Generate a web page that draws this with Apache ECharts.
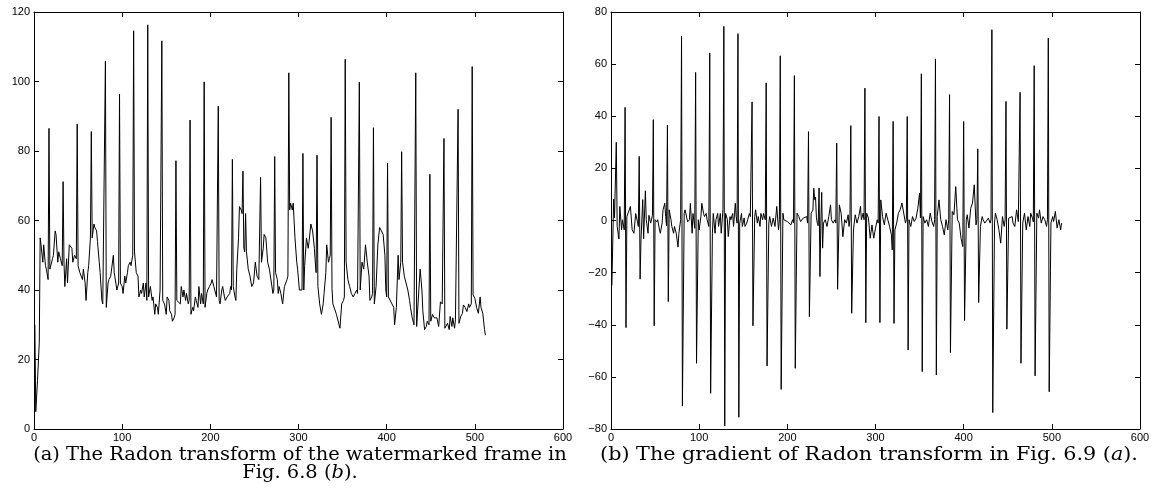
<!DOCTYPE html>
<html>
<head>
<meta charset="utf-8">
<script src="https://cdn.jsdelivr.net/npm/echarts@6/dist/echarts.min.js"></script>
<style>
html,body{margin:0;padding:0;background:#fff;}
#c{width:1153px;height:504px;}
</style>
</head>
<body>
<div id="c"></div>
<script>
// Radon transform (left panel): [sample index, value]
const radon = [[1,30],[2,5],[3,5],[4,14],[5,14],[6,25],[7,55],[8,53],[10,48],[11,53],[13,47],[14,46],[16,43],[17,86.5],[18,46],[20,46],[21,49],[22,50],[24,57],[25,56],[27,48],[28,51],[30,49],[32,47],[33,71.2],[34,48],[35,41],[37,49],[38,42],[40,53],[41,53],[43,52],[44,48],[46,50],[48,49],[49,87.8],[50,47],[52,45],[53,45],[55,43],[56,46],[58,42],[59,37],[61,45],[62,47],[64,55],[65,85.6],[66,55],[68,59],[69,58],[71,57],[72,54],[74,48],[75,45],[77,37],[78,36],[80,36],[81,105.9],[82,35],[84,42],[85,43],[87,44],[88,44],[90,50],[91,45],[93,45],[94,40],[96,42],[97,96.4],[98,42],[100,41],[101,39],[103,44],[104,42],[106,45],[107,47],[109,48],[110,47],[112,50],[113,114.6],[114,51],[116,45],[118,44],[119,38],[121,40],[122,39],[124,42],[125,38],[127,42],[128,37],[129,116.3],[130,38],[132,41],[134,37],[135,38],[137,33],[138,36],[140,35],[141,33],[143,40],[144,40],[145,111.7],[146,37],[148,36],[150,33],[151,38],[153,37],[154,34],[156,33],[157,31],[159,32],[160,33],[161,77.2],[162,37],[164,37],[166,36],[167,41],[169,38],[170,40],[172,37],[173,39],[175,36],[176,37],[177,88.9],[178,33],[180,35],[181,34],[183,38],[184,37],[186,35],[187,41],[189,36],[190,39],[192,36],[193,99.9],[194,35],[196,39],[197,40],[199,41],[201,42],[202,43],[204,41],[205,40],[207,38],[208,38],[209,92.9],[210,37],[211,36],[213,40],[214,41],[216,38],[217,37],[219,38],[220,38],[222,39],[223,41],[224,40],[225,77.6],[226,41],[228,38],[229,37],[230,46],[232,55],[233,64],[235,63],[236,62],[237,74.2],[238,52],[239,51],[240,62],[241,51],[243,46],[245,44],[247,41],[249,42],[251,48],[253,44],[255,43],[256,43],[257,72.4],[258,48],[260,52],[261,56],[263,55],[265,48],[267,46],[269,46],[271,39],[272,40],[273,78.4],[274,45],[276,43],[277,39],[278,41],[280,39],[282,36],[284,41],[285,41],[287,43],[288,44],[289,102.5],[290,63],[291,65],[293,63],[294,65],[296,55],[298,48],[299,46],[301,40],[303,40],[304,40],[305,79.3],[306,40],[307,47],[309,55],[311,52],[312,54],[314,59],[316,57],[318,52],[319,48],[320,45],[321,78.8],[322,41],[324,36],[326,33],[328,36],[329,39],[331,45],[332,53],[334,48],[335,49],[336,50],[337,89.7],[338,40.5],[339,36],[341,36],[343,33],[345,33],[347,29],[349,36],[351,37],[352,38],[353,106.4],[354,48],[356,43],[358,41],[360,39],[362,38],[364,39],[366,40],[367,39],[368,39],[369,99.8],[370,40],[372,48],[374,46],[376,53],[378,48],[380,44],[381,37],[383,38],[384,39],[385,86.7],[386,36],[388,41],[390,53],[392,58],[394,57],[396,56],[398,50],[399,40],[400,38],[401,76.5],[402,38],[404,38],[406,36],[408,35],[409,30],[411,35],[413,50],[414,43],[416,48],[417,79.8],[418,48],[420,44],[422,42],[424,40],[426,37],[427,35],[429,32],[431,30],[432,29.5],[433,102.5],[434,29.5],[435,30],[437,42],[438,46],[440,40],[441,34],[443,28.6],[445,29.5],[446,31],[448,30],[449,73.3],[450,31],[452,33],[454,32],[456,32],[457,32],[459,29.5],[461,36.6],[463,36],[464,36],[465,83.6],[466,29],[468,28.6],[469,30.4],[471,28.6],[472,32.4],[474,29.5],[475,32],[477,29],[478,31.4],[480,31],[481,92],[482,30.4],[484,32.4],[486,33.3],[487,35.7],[489,35],[491,33.8],[493,36],[494,35],[496,36],[497,104.3],[498,38.6],[500,37.6],[502,35],[504,33.3],[506,38],[507,35],[509,33.3],[511,28.6],[512,27]];

// Gradient (right panel): [sample index, value]
const gradient = [[1,-25],[3,8.2],[4,1],[6,30],[7,-2.3],[9,-7.1],[10,5.4],[12,-3.6],[13,0.3],[15,-3.6],[16,43.4],[17,-41.1],[18,1.5],[20,2.1],[22,5.4],[24,-3.6],[26,-4.9],[28,2.7],[30,-0.5],[31,-2.3],[32,24.6],[33,-22.5],[34,-7.4],[36,8],[37,-7],[39,11.4],[40,0.3],[42,-4.9],[43,2],[45,-1],[47,2],[48,38.7],[49,-40.4],[50,0.3],[52,-0.5],[53,0.3],[55,-3.6],[56,-4.9],[58,-0.9],[59,4.1],[61,6.6],[62,1.5],[63,-2],[64,36.6],[65,-31.1],[66,4.1],[68,0.3],[69,-2.3],[71,-4.9],[72,-2.3],[74,-4.9],[76,-10.2],[77,-4.9],[79,0.3],[80,70.7],[81,-71.2],[83,2.7],[84,4.1],[86,0.9],[87,-0.5],[89,0.3],[90,6.6],[92,-4.9],[93,2.7],[95,-3],[96,56.8],[97,-54.8],[99,0.3],[100,-3.6],[102,1.5],[103,6.6],[105,2.7],[106,1.5],[108,2.7],[109,0.3],[111,-2.3],[112,64.3],[113,-66.3],[115,-4.9],[116,2.7],[118,-4.9],[119,0.3],[121,2.7],[122,-2.3],[124,2.7],[125,-4.9],[127,4.1],[128,74.5],[129,-78.8],[130,2.7],[132,0.3],[133,-6.2],[135,1.5],[136,0.3],[138,2.7],[139,-2.3],[141,6.6],[142,1.5],[143,-1],[144,71.7],[145,-75.5],[146,-1],[148,2.7],[149,-2.3],[151,1],[152,-2.3],[154,-1],[155,0.3],[157,2.7],[158,1.5],[160,45.5],[161,-40.4],[163,1.5],[164,4.1],[166,-1],[167,1.5],[169,-2.3],[170,2.7],[172,0.3],[173,2.7],[175,0.3],[176,52.8],[177,-55.8],[179,-1],[180,1.5],[182,-2.3],[184,0.9],[186,-2.3],[188,5.4],[190,-3.6],[191,0.3],[192,63.2],[193,-64.8],[195,2.8],[196,0.3],[198,0.5],[200,-0.4],[202,0.3],[204,-1.7],[206,0.3],[207,-1],[208,55.6],[209,-56.7],[211,2.8],[213,1.5],[215,-0.4],[216,0.3],[218,0.9],[220,0.3],[222,1.5],[223,-1],[224,34.1],[225,-36.9],[227,2.8],[229,4],[230,12.4],[231,8],[232,9],[233,1],[234,-1],[235,-2],[236,12.5],[237,-21.5],[238,-1],[239,10.8],[240,-10.6],[241,-1],[243,0.3],[245,-2.3],[247,1.5],[249,6],[250,0.3],[252,-1],[254,0.3],[255,-1],[256,29.7],[257,-26.4],[259,6],[261,2.8],[263,-6.2],[265,0.3],[267,-1],[269,2.2],[270,-2.3],[271,0.3],[272,36.4],[273,-35.6],[275,-3.6],[277,2.2],[279,-1],[281,1.5],[283,5.4],[284,0.3],[286,2.8],[287,0.3],[288,50.8],[289,-39.2],[290,2.8],[292,0.9],[294,-6.8],[296,-1.7],[298,-6.8],[300,-2.9],[302,0.3],[303,-1],[304,39.9],[305,-39.2],[306,7.9],[308,1.5],[310,-1.7],[312,2.8],[314,3.5],[316,-2.3],[318,-5.5],[319,-11.3],[320,38],[321,-39.5],[322,-3.6],[324,-1],[326,2.8],[328,4.1],[330,6.7],[332,2.8],[334,-1],[335,0.3],[336,39.9],[337,-49.7],[338,0.3],[340,-2.3],[342,1.5],[344,-0.4],[346,0.9],[348,4.7],[350,10.5],[351,1],[352,56.3],[353,-58],[354,1.5],[356,-1],[358,0.3],[360,-2.3],[362,2.8],[364,-0.4],[366,-2.3],[367,0.3],[368,62],[369,-59.3],[370,1.5],[372,7.9],[374,0.3],[376,-2.3],[378,-5.5],[380,0.3],[382,-3.6],[383,0.3],[384,48.3],[385,-50.7],[387,3.5],[389,2.2],[391,13],[393,0.3],[395,-1],[397,-6.8],[399,-10],[400,38],[401,-38.4],[403,0.3],[404,2.2],[406,-2.9],[408,4.7],[410,6.7],[412,13.7],[414,-1.7],[415,0.3],[416,27.5],[417,-31.5],[419,-2.3],[421,1.5],[422,0.3],[424,-1],[426,-0.4],[428,0.9],[430,-1],[431,0.3],[432,73.2],[433,-73.7],[435,-1],[436,2.8],[438,0.3],[440,-3.6],[442,-8.7],[444,1.5],[446,-2.3],[447,0.3],[448,45.7],[449,-41.7],[451,0.9],[453,0.3],[455,1.5],[456,-1],[458,-2.3],[460,4.1],[462,-0.4],[463,0.3],[464,49.2],[465,-54.8],[467,-1],[469,2.8],[471,-3.6],[473,1.5],[475,-2.3],[476,2.8],[478,0.9],[479,-0.5],[480,59.4],[481,-59.6],[483,2.8],[485,0.9],[486,4.1],[488,-1],[490,1.5],[492,0.3],[494,-2.3],[495,0.3],[496,70],[497,-65.7],[499,-1],[501,1.5],[502,-0.4],[504,3.5],[506,-2.9],[508,0.3],[510,-3.6],[511,-1]];

// Axis ranges / ticks
const xRange = [0, 600], xStep = 100;
const yRangeLeft = [0, 120], yStepLeft = 20;
const yRangeRight = [-80, 80], yStepRight = 20;

const captionLeft = ['(a) The Radon transform of the watermarked frame in', 'Fig. 6.8 (', 'b', ').'];
const captionRight = ['(b) The gradient of Radon transform in Fig. 6.9 (', 'a', ').'];

const chart = echarts.init(document.getElementById('c'), null, {renderer: 'canvas'});
const FONT = '"Liberation Sans", Arial, Helvetica, sans-serif';
const lbl = {color: '#000', fontSize: 11, fontFamily: FONT,
  formatter: v => String(v).replace('-', '\u2212')};
const line = {lineStyle: {color: '#000', width: 1}};
const tick = {inside: true, length: 5, lineStyle: {color: '#000', width: 1}};

function xAxes(gi) {
  return [
    {type: 'value', gridIndex: gi, position: 'bottom', min: xRange[0], max: xRange[1], interval: xStep,
     axisLine: {show: true, onZero: false, ...line}, axisTick: tick, splitLine: {show: false},
     axisLabel: {...lbl, margin: 3}},
    {type: 'value', gridIndex: gi, position: 'top', min: xRange[0], max: xRange[1], interval: xStep,
     axisLine: {show: true, onZero: false, ...line}, axisTick: tick, splitLine: {show: false},
     axisLabel: {show: false}}
  ];
}
function yAxes(gi, r, s) {
  return [
    {type: 'value', gridIndex: gi, position: 'left', min: r[0], max: r[1], interval: s,
     axisLine: {show: true, onZero: false, ...line}, axisTick: tick, splitLine: {show: false},
     axisLabel: {...lbl, margin: 4}},
    {type: 'value', gridIndex: gi, position: 'right', min: r[0], max: r[1], interval: s,
     axisLine: {show: true, onZero: false, ...line}, axisTick: tick, splitLine: {show: false},
     axisLabel: {show: false}}
  ];
}

const capFont = '"DejaVu Serif", "Liberation Serif", serif';
const capSize = 18;
function capStyle(text) {
  return {
    text: text, align: 'center', verticalAlign: 'top', fill: '#000',
    font: capSize + 'px ' + capFont, lineHeight: 18,
    rich: {i: {fontStyle: 'italic', fontSize: capSize, fontFamily: capFont, lineHeight: 18}}
  };
}

chart.setOption({
  animation: false,
  backgroundColor: '#fff',
  grid: [
    {left: 34, top: 12, width: 529, height: 417, containLabel: false},
    {left: 611, top: 12, width: 529, height: 417, containLabel: false}
  ],
  xAxis: [...xAxes(0), ...xAxes(1)],
  yAxis: [...yAxes(0, yRangeLeft, yStepLeft), ...yAxes(1, yRangeRight, yStepRight)],
  series: [
    {type: 'line', xAxisIndex: 0, yAxisIndex: 0, data: radon, showSymbol: false, symbol: 'none',
     lineStyle: {color: '#000', width: 1}, clip: true},
    {type: 'line', xAxisIndex: 2, yAxisIndex: 2, data: gradient, showSymbol: false, symbol: 'none',
     lineStyle: {color: '#000', width: 1}, clip: true}
  ],
  graphic: [
    {type: 'text', x: 300, y: 446, scaleX: 1.08,
     style: capStyle(captionLeft[0] + '\n' + captionLeft[1] + '{i|' + captionLeft[2] + '}' + captionLeft[3])},
    {type: 'text', x: 869, y: 446, scaleX: 1.15,
     style: capStyle(captionRight[0] + '{i|' + captionRight[1] + '}' + captionRight[2])}
  ]
});
</script>
</body>
</html>
